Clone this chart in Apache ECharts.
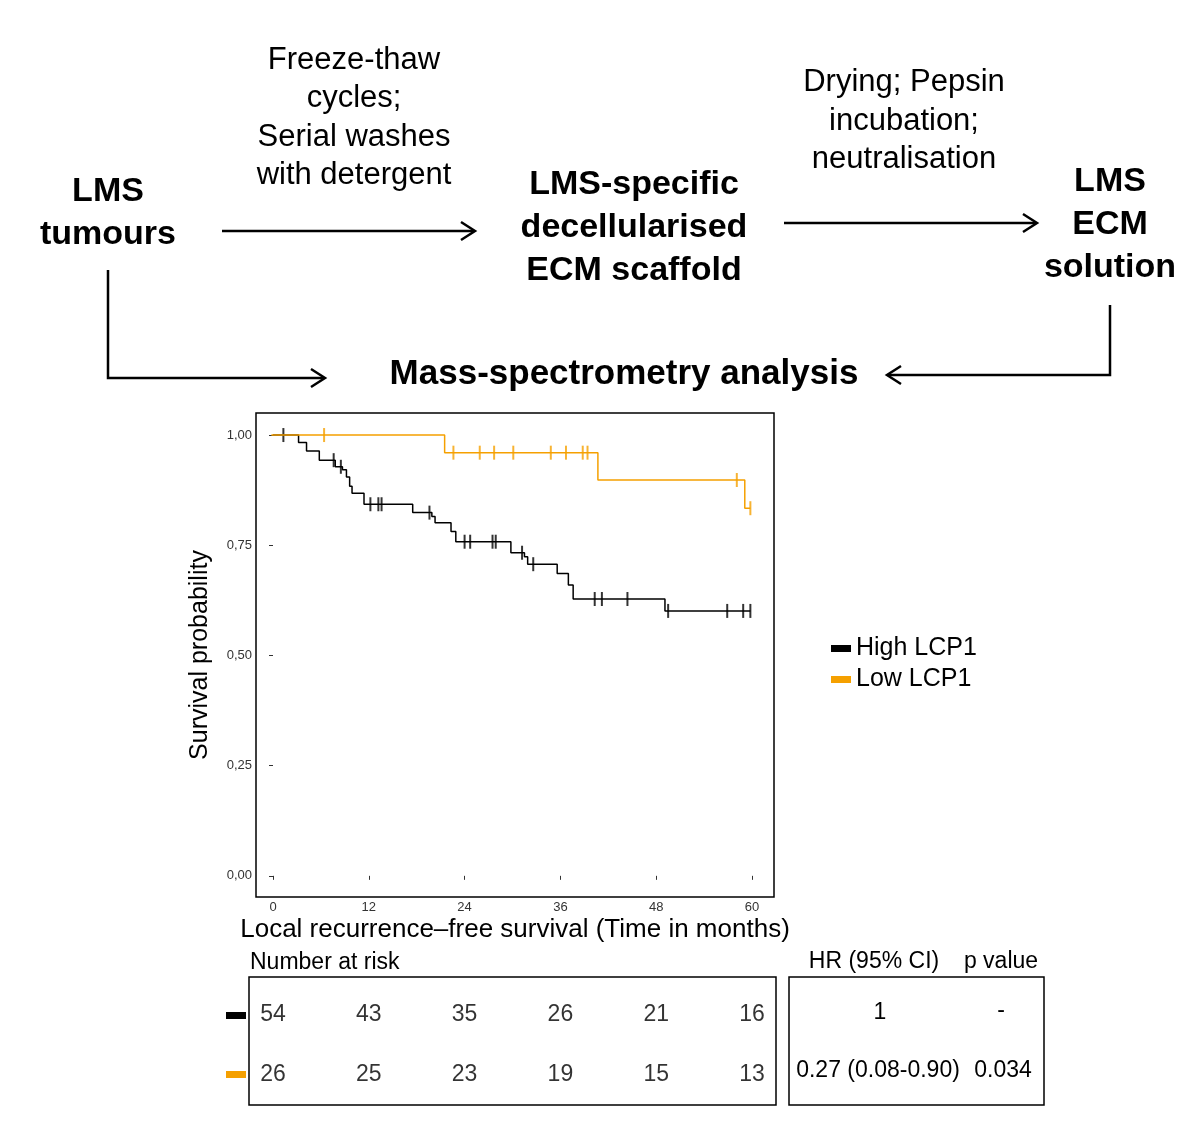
<!DOCTYPE html>
<html><head><meta charset="utf-8">
<script src="https://cdn.jsdelivr.net/npm/echarts@6/dist/echarts.min.js"></script>
<style>html,body{margin:0;padding:0;background:#fff}#c{width:1200px;height:1125px}</style>
</head><body><div id="c"></div>
<script>
// Kaplan-Meier steps: [time (months), survival after event]
const highSteps = [[0,1],[3.2,0.983],[4.2,0.964],[5.8,0.943],[7.8,0.928],[8.7,0.921],[9.2,0.905],[9.6,0.884],[9.9,0.868],[11.4,0.843],[17.5,0.824],[19.9,0.815],[20.3,0.801],[22.3,0.781],[22.9,0.758],[29.8,0.733],[31.5,0.724],[31.9,0.707],[35.6,0.686],[37.0,0.660],[37.6,0.628],[49.1,0.601],[59.8,0.601]];
const lowSteps = [[-0.2,1],[21.5,0.960],[40.7,0.898],[59.1,0.834],[59.8,0.834]];
const highCensor = [1.3,7.6,8.5,12.2,13.2,13.6,19.6,24.0,24.7,27.5,27.9,31.2,32.6,40.3,41.2,44.4,49.5,56.9,58.9,59.8];
const lowCensor = [6.4,22.6,25.9,27.7,30.1,34.8,36.7,38.8,39.4,58.1,59.8];
const xTicks = [0,12,24,36,48,60];
const riskHigh = [54,43,35,26,21,16];
const riskLow = [26,25,23,19,15,13];
const groups = ['High LCP1','Low LCP1'];
const colors = ['#000000','#F5A000'];
const hrRows = [['1','-'],['0.27 (0.08-0.90)','0.034']];

function sAt(steps,t){let s=1;for(const p of steps){if(p[0]<=t)s=p[1];}return s;}
const F='Liberation Sans, Arial, sans-serif';
const chart=echarts.init(document.getElementById('c'));
function txt(x,y,t,o){return Object.assign({type:'text',x,y,style:Object.assign({text:t,font:'29px '+F,fill:'#000',align:'center',verticalAlign:'middle'},o||{})});}
function bold(x,y,t){return txt(x,y,t,{font:'bold 34px '+F,lineHeight:43});}
function norm(x,y,t){return txt(x,y,t,{font:'31px '+F,lineHeight:38.5});}
function ln(pts){return {type:'polyline',shape:{points:pts},style:{stroke:'#000',lineWidth:2.5,fill:null}};}
function arrowR(x,y){return ln([[x-14,y-9],[x,y],[x-14,y+9]]);}
function arrowL(x,y){return ln([[x+14,y-9],[x,y],[x+14,y+9]]);}
const g=[
 bold(108,213,'LMS\ntumours'),
 norm(354,118,'Freeze-thaw\ncycles;\nSerial washes\nwith detergent'),
 bold(634,228,'LMS-specific\ndecellularised\nECM scaffold'),
 norm(904,121,'Drying; Pepsin\nincubation;\nneutralisation'),
 bold(1110,225,'LMS\nECM\nsolution'),
 txt(624,374,'Mass-spectrometry analysis',{font:'bold 35px '+F}),
 ln([[222,231],[474,231]]),arrowR(475,231),
 ln([[784,223],[1036,223]]),arrowR(1037,223),
 ln([[108,270],[108,378],[324,378]]),arrowR(325,378),
 ln([[1110,305],[1110,375],[888,375]]),arrowL(887,375),
 txt(515,930,'Local recurrence\u2013free survival (Time in months)',{font:'26px '+F}),
 {type:'text',x:200,y:655,rotation:Math.PI/2,style:{text:'Survival probability',font:'25px '+F,fill:'#000',align:'center',verticalAlign:'middle'}},
 txt(250,963,'Number at risk',{font:'23px '+F,align:'left'}),
 txt(874,962,'HR (95% CI)',{font:'23px '+F}),
 txt(1001,962,'p value',{font:'23px '+F}),
 {type:'rect',shape:{x:249,y:977,width:527,height:128},style:{fill:null,stroke:'#000',lineWidth:1.5}},
 {type:'rect',shape:{x:789,y:977,width:255,height:128},style:{fill:null,stroke:'#000',lineWidth:1.5}},
 {type:'rect',shape:{x:226,y:1012,width:20,height:7},style:{fill:colors[0]}},
 {type:'rect',shape:{x:226,y:1071,width:20,height:7},style:{fill:colors[1]}},
 txt(880,1013,hrRows[0][0],{font:'23px '+F}),txt(1001,1011,hrRows[0][1],{font:'23px '+F}),
 txt(878,1071,hrRows[1][0],{font:'23px '+F}),txt(1003,1071,hrRows[1][1],{font:'23px '+F})
];
const tick='path://M0,0L1,0L1,10L0,10Z';
chart.setOption({
 animation:false,
 grid:[{left:256,right:426,top:413,bottom:228,show:true,borderColor:'#000',borderWidth:1.5},
       {left:256,right:426,top:985,bottom:20}],
 legend:{orient:'vertical',left:826,top:631,itemWidth:20,itemHeight:7,itemGap:6,icon:'rect',
   textStyle:{fontSize:25,fontFamily:F,color:'#000'},data:groups},
 xAxis:[{type:'value',min:-2.13,max:62.76,gridIndex:0,axisLine:{show:false},splitLine:{show:false},
   axisTick:{show:true,length:4,lineStyle:{color:'#333'},customValues:xTicks},
   axisLabel:{customValues:xTicks,fontSize:13,color:'#333',fontFamily:F,margin:4}},
  {type:'value',min:-2.13,max:62.76,gridIndex:1,show:false}],
 yAxis:[{type:'value',min:-0.048,max:1.05,gridIndex:0,axisLine:{show:false},splitLine:{show:false},
   axisTick:{show:true,length:4,customValues:[0,0.25,0.5,0.75,1],lineStyle:{color:'#333'}},
   axisLabel:{customValues:[0,0.25,0.5,0.75,1],fontSize:13,color:'#333',fontFamily:F,margin:4,
     formatter:v=>v.toFixed(2).replace('.',','),}},
  {type:'category',gridIndex:1,inverse:true,data:groups,show:false}],
 series:[
  {name:groups[0],type:'line',step:'end',data:highSteps,symbol:'none',lineStyle:{color:colors[0],width:1.5},itemStyle:{color:colors[0]}},
  {name:groups[1],type:'line',step:'end',data:lowSteps,symbol:'none',lineStyle:{color:colors[1],width:1.5},itemStyle:{color:colors[1]}},
  {type:'scatter',data:highCensor.map(t=>[t,sAt(highSteps,t)]),symbol:tick,symbolSize:[2,14],itemStyle:{color:colors[0]},silent:true},
  {type:'scatter',data:lowCensor.map(t=>[t,sAt(lowSteps,t)]),symbol:tick,symbolSize:[2,14],itemStyle:{color:colors[1]},silent:true},
  {type:'scatter',xAxisIndex:1,yAxisIndex:1,symbolSize:0,data:xTicks.map((t,i)=>[t,groups[0],riskHigh[i]]),
   label:{show:true,formatter:p=>p.data[2],fontSize:23,fontFamily:F,color:'#000'}},
  {type:'scatter',xAxisIndex:1,yAxisIndex:1,symbolSize:0,data:xTicks.map((t,i)=>[t,groups[1],riskLow[i]]),
   label:{show:true,formatter:p=>p.data[2],fontSize:23,fontFamily:F,color:'#000'}}
 ],
 graphic:g
});
</script></body></html>
